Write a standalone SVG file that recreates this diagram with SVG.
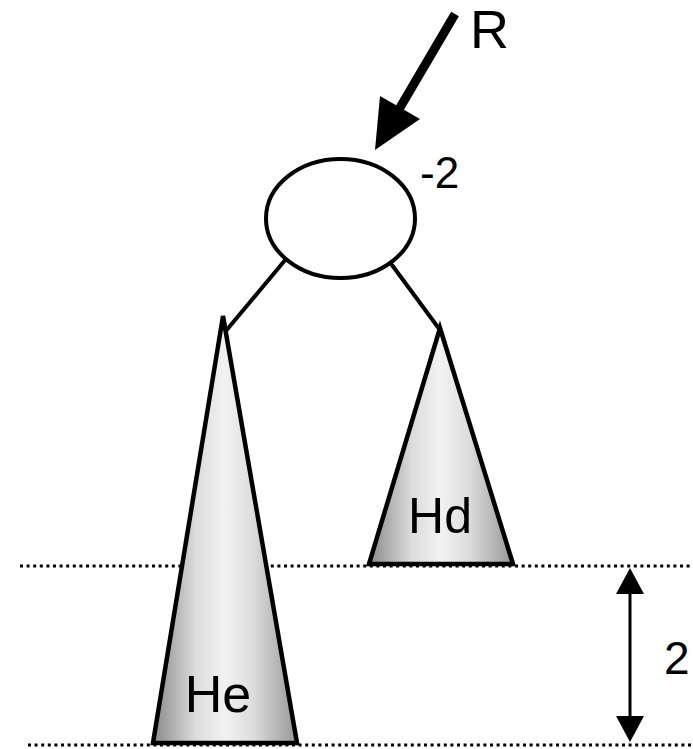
<svg xmlns="http://www.w3.org/2000/svg" width="693" height="749" viewBox="0 0 693 749">
<defs>
<linearGradient id="cone" x1="0" y1="0" x2="1" y2="0">
<stop offset="0" stop-color="#8a8a8a"/>
<stop offset="0.3" stop-color="#dcdcdc"/>
<stop offset="0.5" stop-color="#f2f2f2"/>
<stop offset="0.7" stop-color="#dcdcdc"/>
<stop offset="1" stop-color="#969696"/>
</linearGradient>
</defs>
<style>
.dot{stroke:#000;stroke-width:3;stroke-dasharray:3 3.6;fill:none}
.edge{stroke:#000;stroke-width:4;fill:none;stroke-linecap:round}
.tri{fill:url(#cone);stroke:#000;stroke-width:4.5;stroke-linejoin:miter}
.lbl{font-family:"Liberation Sans",Arial,sans-serif;fill:#000}
</style>
<rect width="693" height="749" fill="#fff"/>
<g id="guides">
<line class="dot" x1="20" y1="566" x2="693" y2="566"/>
<line class="dot" x1="28" y1="745" x2="693" y2="745"/>
</g>
<g id="connectors">
<line class="edge" x1="286" y1="259" x2="225" y2="332"/>
<line class="edge" x1="392" y1="265" x2="440" y2="330"/>
<line x1="455" y1="14" x2="398" y2="111" stroke="#000" stroke-width="9"/>
<polygon points="375,150 380,96 420,119" fill="#000"/>
<line x1="630" y1="590" x2="630" y2="720" stroke="#000" stroke-width="3"/>
<polygon points="630,568 616,594 644,594" fill="#000"/>
<polygon points="630,742 616,716 644,716" fill="#000"/>
</g>
<g id="root">
<ellipse cx="340.5" cy="218.5" rx="74.5" ry="59.5" fill="#fff" stroke="#000" stroke-width="4"/>
<text class="lbl" x="420" y="188" font-size="44">-2</text>
</g>
<g id="He">
<polygon class="tri" points="223,316 297,743 153,743"/>
<text class="lbl" x="218" y="712" font-size="52" text-anchor="middle">He</text>
</g>
<g id="Hd">
<polygon class="tri" points="440,328 513,564 369,564"/>
<text class="lbl" x="440" y="533" font-size="50" text-anchor="middle">Hd</text>
</g>
<g id="labels">
<text class="lbl" x="470" y="48" font-size="54">R</text>
<text class="lbl" x="664" y="674" font-size="46">2</text>
</g>
</svg>
